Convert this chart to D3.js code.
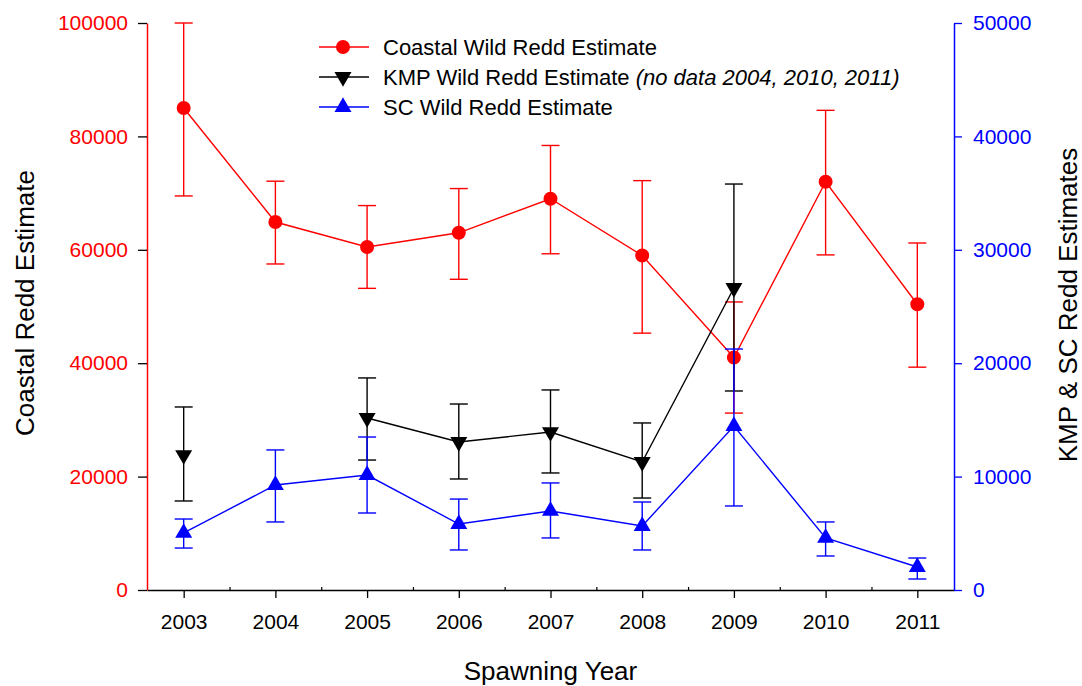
<!DOCTYPE html>
<html>
<head>
<meta charset="utf-8">
<script src="https://cdn.jsdelivr.net/npm/d3@7"></script>
<style>
  body { margin: 0; background: #fff; }
  svg { font-family: "Liberation Sans", Arial, sans-serif; }
</style>
</head>
<body>
<div id="chart"></div>
<script>
const years = [2003, 2004, 2005, 2006, 2007, 2008, 2009, 2010, 2011]

// Coastal wild redd estimate (left axis)
const coastal     = [85000, 64900, 60500, 63000, 69000, 59000, 41000, 72000, 50400]
const coastalHigh = [100000, 72100, 67800, 70800, 78400, 72200, 50800, 84600, 61200]
const coastalLow  = [69500, 57500, 53200, 54800, 59300, 45300, 31200, 59100, 39300]

// KMP wild redd estimate (right axis), no data 2004, 2010, 2011
const kmp     = [11900, null, 15170, 13050, 13930, 11290, 26630, null, null]
const kmpHigh = [16140, null, 18700, 16400, 17640, 14730, 35800, null, null]
const kmpLow  = [7850, null, 11460, 9790, 10320, 8110, 17550, null, null]

// SC wild redd estimate (right axis)
const sc     = [5030, 9260, 10140, 5820, 6970, 5640, 14460, 4590, 2030]
const scHigh = [6260, 12350, 13490, 8020, 9440, 7760, 21250, 6000, 2820]
const scLow  = [3700, 6000, 6790, 3530, 4590, 3530, 7410, 3000, 970]

const leftTicks = [0, 20000, 40000, 60000, 80000, 100000]
const rightTicks = [0, 10000, 20000, 30000, 40000, 50000]

const width = 1082, height = 686
const plot = { left: 147, right: 954, top: 23, bottom: 590 }
const font = '"Liberation Sans", Arial, sans-serif'

const svg = d3.select('#chart')
	.append('svg')
		.attr('width', width)
		.attr('height', height)

const x = d3.scaleLinear()
	.domain([2002.6, 2011.4])
	.range([plot.left, plot.right])

const yLeft = d3.scaleLinear()
	.domain([0, 100000])
	.range([plot.bottom, plot.top])

const yRight = d3.scaleLinear()
	.domain([0, 50000])
	.range([plot.bottom, plot.top])

// x axis: major ticks down, minor ticks up between years
const xAxisG = svg.append('g')
	.attr('transform', `translate(0, ${plot.bottom})`)
	.call(d3.axisBottom(x)
		.tickValues(years)
		.tickFormat(d3.format('d'))
		.tickSize(8)
		.tickSizeOuter(0)
		.tickPadding(16))
xAxisG.select('.domain').attr('stroke', '#000').attr('stroke-width', 1.5)
xAxisG.selectAll('.tick line').attr('stroke', '#000').attr('stroke-width', 1.3)
xAxisG.selectAll('.tick text')
	.attr('font-size', 21)
	.attr('fill', '#000')
	.attr('font-family', font)

const minorG = svg.append('g')
	.attr('transform', `translate(0, ${plot.bottom})`)
	.call(d3.axisBottom(x)
		.tickValues(years.slice(0, -1).map(d => d + 0.5))
		.tickFormat('')
		.tickSize(-3)
		.tickSizeOuter(0))
minorG.select('.domain').remove()
minorG.selectAll('.tick line').attr('stroke', '#000').attr('stroke-width', 1.2)

// left axis
const leftG = svg.append('g')
	.attr('transform', `translate(${plot.left}, 0)`)
	.call(d3.axisLeft(yLeft)
		.tickValues(leftTicks)
		.tickFormat(d3.format('d'))
		.tickSize(9)
		.tickSizeOuter(0)
		.tickPadding(10))
leftG.select('.domain').attr('stroke', '#ff0000').attr('stroke-width', 1.5)
leftG.selectAll('.tick line').attr('stroke', '#000').attr('stroke-width', 1.3)
leftG.selectAll('.tick text')
	.attr('font-size', 21)
	.attr('fill', '#ff0000')
	.attr('font-family', font)

// right axis
const rightG = svg.append('g')
	.attr('transform', `translate(${plot.right}, 0)`)
	.call(d3.axisRight(yRight)
		.tickValues(rightTicks)
		.tickFormat(d3.format('d'))
		.tickSize(8)
		.tickSizeOuter(0)
		.tickPadding(11))
rightG.select('.domain').attr('stroke', '#0000ff').attr('stroke-width', 1.5)
rightG.selectAll('.tick line').attr('stroke', '#0000ff').attr('stroke-width', 1.3)
rightG.selectAll('.tick text')
	.attr('font-size', 21)
	.attr('fill', '#0000ff')
	.attr('font-family', font)

// axis titles
svg.append('text')
	.attr('x', (plot.left + plot.right) / 2)
	.attr('y', 680)
	.attr('text-anchor', 'middle')
	.attr('font-size', 26)
	.text('Spawning Year')

svg.append('text')
	.attr('transform', `translate(34, 303) rotate(-90)`)
	.attr('text-anchor', 'middle')
	.attr('font-size', 26)
	.text('Coastal Redd Estimate')

svg.append('text')
	.attr('transform', `translate(1077, 305) rotate(-90)`)
	.attr('text-anchor', 'middle')
	.attr('font-size', 26)
	.text('KMP & SC Redd Estimates')

// series
const series = [
	{ name: 'Coastal', vals: coastal, hi: coastalHigh, lo: coastalLow, y: yLeft, color: '#ff0000', marker: 'circle' },
	{ name: 'KMP', vals: kmp, hi: kmpHigh, lo: kmpLow, y: yRight, color: '#000000', marker: 'down' },
	{ name: 'SC', vals: sc, hi: scHigh, lo: scLow, y: yRight, color: '#0000ff', marker: 'up' }
]

const symCircle = d3.symbol().type(d3.symbolCircle).size(154)
const symTri = d3.symbol().type(d3.symbolTriangle).size(125)

function drawMarker(g, s, cx, cy) {
	if (s.marker === 'circle') {
		g.append('path')
			.attr('d', symCircle())
			.attr('transform', `translate(${cx}, ${cy})`)
			.attr('fill', s.color)
	} else {
		g.append('path')
			.attr('d', symTri())
			.attr('transform', `translate(${cx}, ${cy}) rotate(${s.marker === 'down' ? 180 : 0})`)
			.attr('fill', s.color)
	}
}

series.forEach(s => {
	const pts = years.map((yr, i) => ({ yr, v: s.vals[i], hi: s.hi[i], lo: s.lo[i] }))
	const g = svg.append('g').attr('class', 'series-' + s.name)

	const line = d3.line()
		.defined(d => d.v !== null)
		.x(d => x(d.yr))
		.y(d => s.y(d.v))

	g.append('path')
		.datum(pts)
		.attr('d', line)
		.attr('fill', 'none')
		.attr('stroke', s.color)
		.attr('stroke-width', 1.4)

	pts.filter(d => d.v !== null).forEach(d => {
		const cx = x(d.yr)
		g.append('line')
			.attr('x1', cx).attr('x2', cx)
			.attr('y1', s.y(d.hi)).attr('y2', s.y(d.lo))
			.attr('stroke', s.color).attr('stroke-width', 1.4)
		;[d.hi, d.lo].forEach(e => {
			g.append('line')
				.attr('x1', cx - 9).attr('x2', cx + 9)
				.attr('y1', s.y(e)).attr('y2', s.y(e))
				.attr('stroke', s.color).attr('stroke-width', 1.4)
		})
		drawMarker(g, s, cx, s.y(d.v))
	})
})

// legend
const legend = [
	{ s: series[0], label: 'Coastal Wild Redd Estimate', note: '' },
	{ s: series[1], label: 'KMP Wild Redd Estimate ', note: '(no data 2004, 2010, 2011)' },
	{ s: series[2], label: 'SC Wild Redd Estimate', note: '' }
]

legend.forEach((d, i) => {
	const ly = 47 + i * 30
	const g = svg.append('g')
	g.append('line')
		.attr('x1', 319).attr('x2', 369)
		.attr('y1', ly).attr('y2', ly)
		.attr('stroke', d.s.color).attr('stroke-width', 1.4)
	drawMarker(g, d.s, 343, ly)
	const t = g.append('text')
		.attr('x', 383)
		.attr('y', ly + 8)
		.attr('font-size', 22)
		.text(d.label)
	if (d.note) {
		t.append('tspan').attr('font-style', 'italic').text(d.note)
	}
})
</script>
</body>
</html>
